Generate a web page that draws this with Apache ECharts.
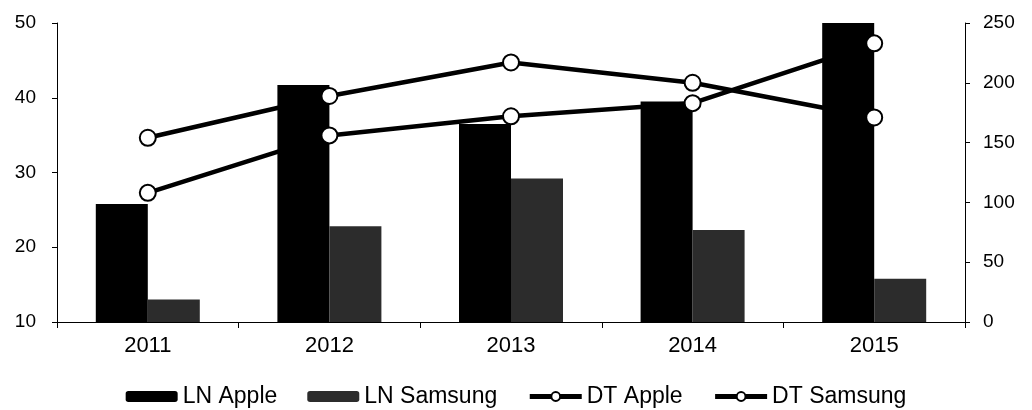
<!DOCTYPE html>
<html>
<head>
<meta charset="utf-8">
<script src="https://cdn.jsdelivr.net/npm/echarts@6/dist/echarts.min.js"></script>
<style>
  html, body { margin: 0; padding: 0; background: #fff; }
  #chart { width: 1032px; height: 410px; }
</style>
</head>
<body>
<div id="chart"></div>
<script>
const years = ["2011", "2012", "2013", "2014", "2015"];
const lnApple = [25.8, 41.7, 36.5, 39.5, 50];
const lnSamsung = [13, 22.8, 29.2, 22.3, 15.8];
const dtApple = [154, 189, 217, 200, 171];
const dtSamsung = [108, 156, 172, 183, 233];

const font = "Liberation Sans";
const chart = echarts.init(document.getElementById("chart"));

// 折线样式：黑线 + 白色圆点
function lineSeries(name, data) {
  return {
    name: name,
    type: "line",
    yAxisIndex: 1,
    data: data,
    z: 5,
    symbol: "circle",
    symbolSize: 16,
    lineStyle: { color: "#000", width: 4.5 },
    itemStyle: { color: "#fff", borderColor: "#000", borderWidth: 2 },
  };
}

const option = {
  animation: false,
  grid: { left: 57, right: 67, top: 23, bottom: 88 },
  legend: {
    bottom: -3,
    itemWidth: 52,
    itemHeight: 11,
    itemGap: 30,
    lineStyle: { width: 5, color: "#000" },
    textStyle: { fontFamily: font, fontSize: 23, color: "#000" },
    data: ["LN Apple", "LN Samsung", "DT Apple", "DT Samsung"],
  },
  xAxis: {
    type: "category",
    data: years,
    axisLine: { lineStyle: { color: "#000", width: 1 } },
    axisTick: { show: true, length: 6, lineStyle: { color: "#000" } },
    axisLabel: { fontFamily: font, fontSize: 22, color: "#000", margin: 13 },
  },
  yAxis: [
    {
      type: "value",
      min: 10,
      max: 50,
      interval: 10,
      splitLine: { show: false },
      axisLine: { show: true, lineStyle: { color: "#000" } },
      axisTick: { show: true, length: 5, lineStyle: { color: "#000" } },
      axisLabel: { fontFamily: font, fontSize: 19, color: "#000", margin: 21 },
    },
    {
      type: "value",
      min: 0,
      max: 250,
      interval: 50,
      splitLine: { show: false },
      axisLine: { show: true, lineStyle: { color: "#000" } },
      axisTick: { show: true, length: 5, lineStyle: { color: "#000" } },
      axisLabel: { fontFamily: font, fontSize: 19, color: "#000", margin: 18 },
    },
  ],
  series: [
    {
      name: "LN Apple",
      type: "bar",
      data: lnApple,
      barWidth: 52,
      barGap: "0%",
      itemStyle: { color: "#000" },
    },
    {
      name: "LN Samsung",
      type: "bar",
      data: lnSamsung,
      barWidth: 52,
      itemStyle: { color: "#2c2c2c" },
    },
    lineSeries("DT Apple", dtApple),
    lineSeries("DT Samsung", dtSamsung),
  ],
};

chart.setOption(option);
</script>
</body>
</html>
